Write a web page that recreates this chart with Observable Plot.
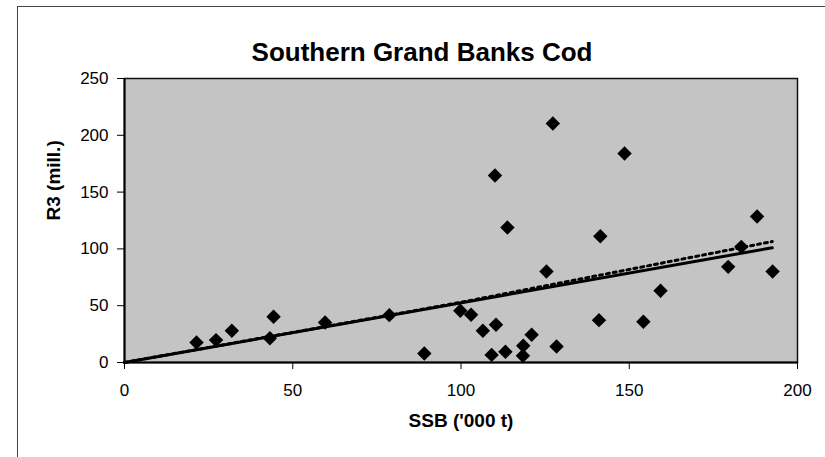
<!DOCTYPE html>
<html>
<head>
<meta charset="utf-8">
<script src="https://cdn.jsdelivr.net/npm/d3@7"></script>
<script src="https://cdn.jsdelivr.net/npm/@observablehq/plot@0.6"></script>
<style>
  html, body { margin: 0; padding: 0; background: #fff; }
  #wrap { position: relative; width: 825px; height: 457px; overflow: hidden; }
  #border { position: absolute; left: 17px; top: 6px; width: 830px; height: 470px;
            border-left: 1px solid #444; border-top: 1px solid #444; pointer-events: none; }
  svg { font-family: "Liberation Sans", Arial, sans-serif; }
</style>
</head>
<body>
<div id="wrap"><div id="border"></div></div>
<script>
// Data
const ssb = [21.4, 27.2, 31.9, 43.2, 44.3, 59.6, 78.7, 89.1, 99.8, 103.0, 106.5, 109.1, 110.4, 110.1, 113.2, 113.8, 118.4, 118.5, 121.0, 125.4, 127.3, 128.4, 141.0, 141.4, 148.6, 154.2, 159.3, 179.4, 183.3, 188.0, 192.6];
const r3  = [17.6, 19.7, 27.9, 21.4, 40.2, 35.2, 41.7, 7.9, 45.5, 42.0, 27.9, 6.7, 33.2, 164.6, 9.4, 118.8, 5.9, 14.7, 24.4, 80.1, 210.4, 14.1, 37.3, 111.2, 184.0, 35.8, 63.1, 84.2, 101.8, 128.5, 80.1];
const fitX = [0, 192.5];
const fitSolid = [0, 101];
const dottedX = [0, 100, 192.5];
const dottedY = [0, 53, 106.5];
const xTicks = [0, 50, 100, 150, 200];
const yTicks = [0, 50, 100, 150, 200, 250];
const title = "Southern Grand Banks Cod";
const xLabel = "SSB ('000 t)";
const yLabel = "R3 (mill.)";

const points = ssb.map((x, i) => ({x, y: r3[i]}));
const solid = fitX.map((x, i) => ({x, y: fitSolid[i]}));
const dotted = dottedX.map((x, i) => ({x, y: dottedY[i]}));

const chart = Plot.plot({
  width: 825,
  height: 457,
  marginLeft: 124,
  marginRight: 28,
  marginTop: 78,
  marginBottom: 95,
  style: {fontFamily: "Liberation Sans, Arial, sans-serif", fontSize: "17px", color: "#000", background: "transparent"},
  x: {domain: [0, 200]},
  y: {domain: [0, 250]},
  marks: [
    Plot.frame({fill: "#c4c4c4", stroke: "#111", strokeWidth: 1.5}),
    Plot.line(dotted, {x: "x", y: "y", stroke: "#000", strokeWidth: 3, strokeDasharray: "3,4"}),
    Plot.line(solid, {x: "x", y: "y", stroke: "#000", strokeWidth: 3}),
    Plot.dot(points, {x: "x", y: "y", symbol: "diamond2", r: 6.5, fill: "#000", stroke: "none"}),
    Plot.ruleX([0], {stroke: "#000", strokeWidth: 2}),
    Plot.ruleY([0], {stroke: "#000", strokeWidth: 2}),
    Plot.axisX({ticks: xTicks, tickSize: 7, tickPadding: 14, label: null, fontSize: 17, stroke: "#000"}),
    Plot.axisY({ticks: yTicks, tickSize: 7, tickPadding: 9, label: null, fontSize: 17, stroke: "#000"}),
    Plot.text([title], {frameAnchor: "top", dx: -39, dy: -18, lineAnchor: "bottom", fontSize: 26, fontWeight: "bold", fill: "#000"}),
    Plot.text([xLabel], {frameAnchor: "bottom", dy: 58, lineAnchor: "middle", fontSize: 19, fontWeight: "bold", fill: "#000"}),
    Plot.text([yLabel], {frameAnchor: "left", dx: -71, rotate: -90, fontSize: 19, fontWeight: "bold", fill: "#000"})
  ]
});
document.getElementById("wrap").prepend(chart);
</script>
</body>
</html>
